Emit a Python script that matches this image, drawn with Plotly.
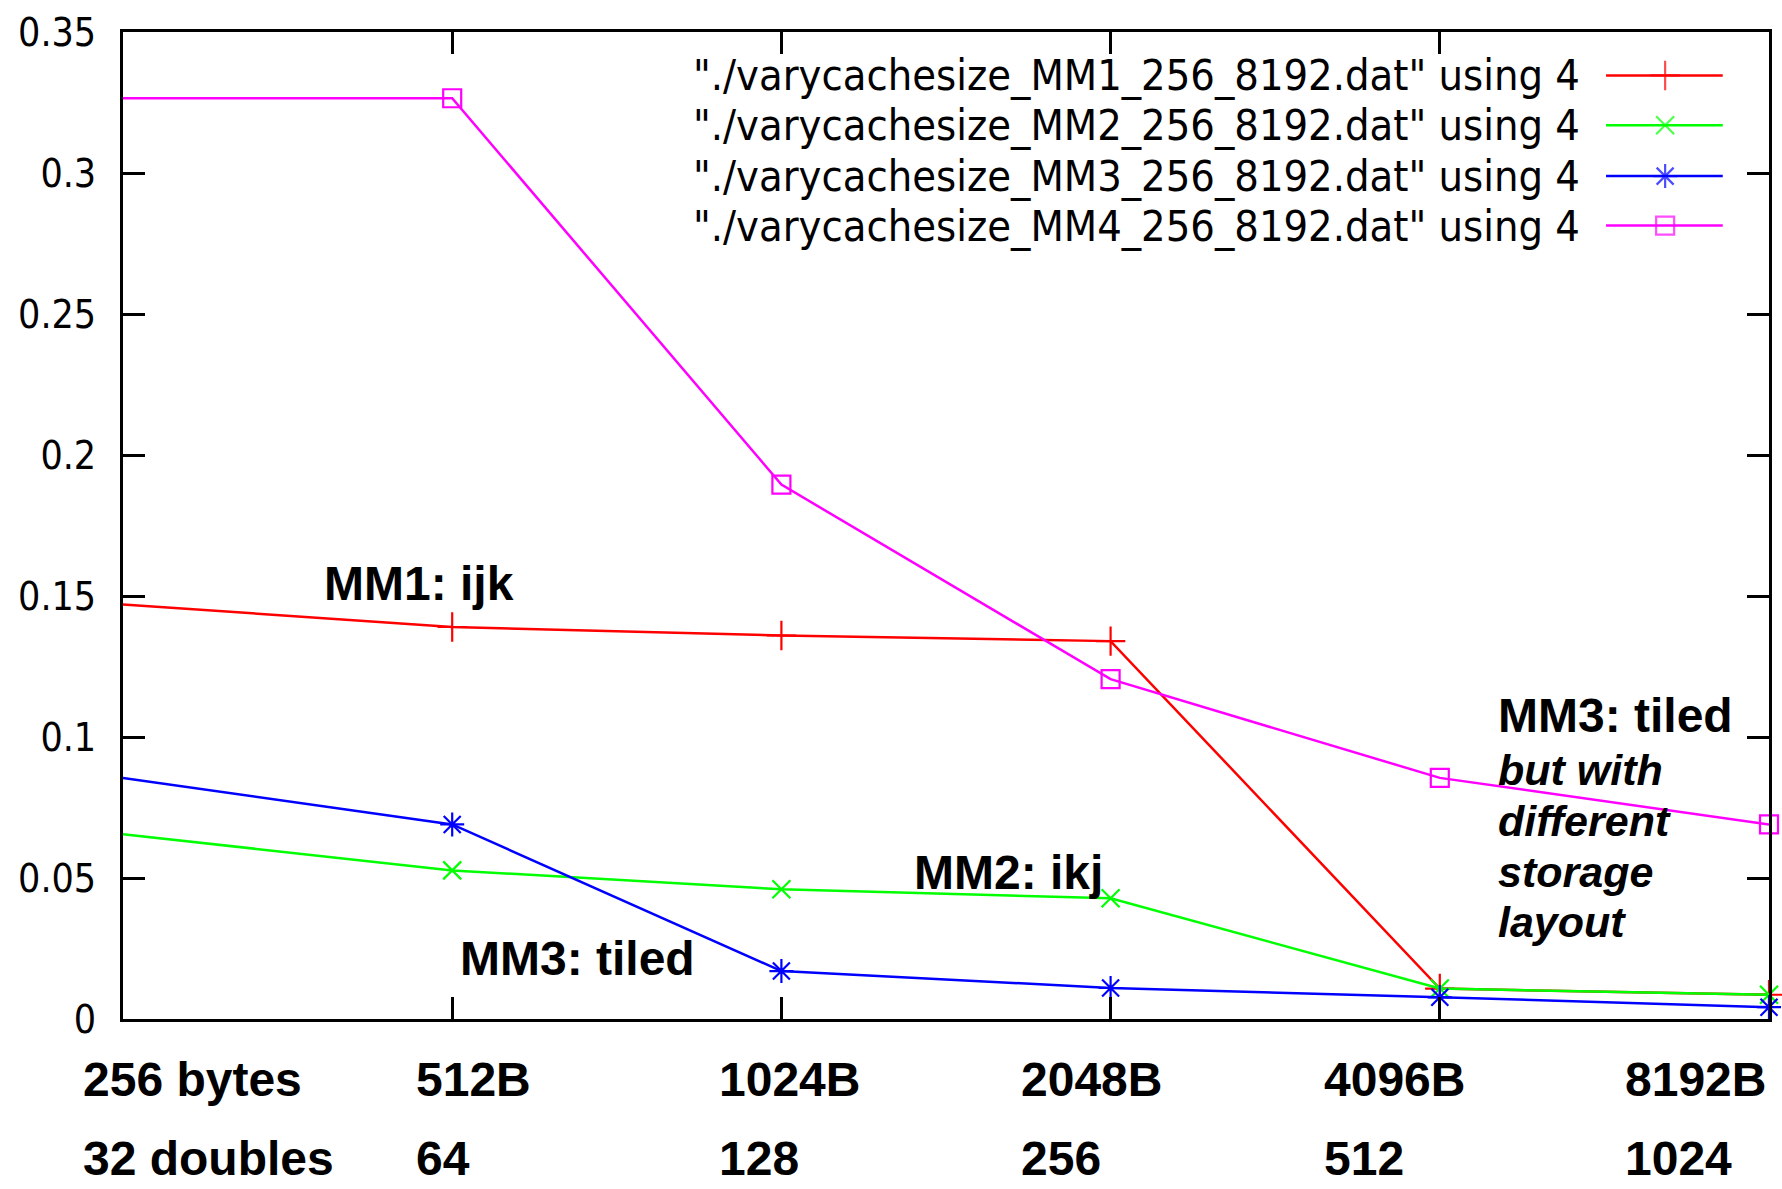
import math
import plotly.graph_objects as go

# ---- data ----
cache_bytes = [256, 512, 1024, 2048, 4096, 8192]
row1_labels = ["256 bytes", "512B", "1024B", "2048B", "4096B", "8192B"]
row2_labels = ["32 doubles", "64", "128", "256", "512", "1024"]

mm1 = [0.147, 0.139, 0.136, 0.134, 0.0108, 0.0086]
mm2 = [0.0655, 0.0527, 0.0460, 0.0428, 0.0108, 0.0086]
mm3 = [0.0855, 0.0690, 0.0170, 0.0110, 0.0077, 0.0042]
mm4 = [0.3265, 0.3265, 0.1895, 0.1205, 0.0855, 0.0690]

series_names = [
    '"./varycachesize_MM1_256_8192.dat" using 4',
    '"./varycachesize_MM2_256_8192.dat" using 4',
    '"./varycachesize_MM3_256_8192.dat" using 4',
    '"./varycachesize_MM4_256_8192.dat" using 4',
]
series_values = [mm1, mm2, mm3, mm4]
colors = ["#ff0000", "#00ff00", "#0000ff", "#ff00ff"]
symbols = ["cross-thin-open", "x-thin-open", "asterisk-open", "square-open"]
sym_sizes = [21, 18, 20, 18]

y_ticks = [0, 0.05, 0.1, 0.15, 0.2, 0.25, 0.3, 0.35]
y_ticktext = ["0", "0.05", "0.1", "0.15", "0.2", "0.25", "0.3", "0.35"]

BOLD = "Liberation Sans, Arial, sans-serif"
REG = "DejaVu Sans Condensed, DejaVu Sans, sans-serif"

fig = go.Figure()
for name, vals, c, s, sz in zip(series_names, series_values, colors, symbols, sym_sizes):
    fig.add_trace(go.Scatter(
        x=cache_bytes, y=vals, mode="lines+markers", name=name,
        line=dict(color=c, width=2.5),
        marker=dict(symbol=s, size=sz, color=c, line=dict(color=c, width=2.2)),
        cliponaxis=False, showlegend=False,
    ))

# ---- custom gnuplot-style legend (text left, sample right) ----
leg_rows_y = [0.9560, 0.9056, 0.8540, 0.8039]
leg_text_x = 0.8866
leg_x = [0.9010, 0.9369, 0.9719]
for name, c, s, sz, yr in zip(series_names, colors, symbols, sym_sizes, leg_rows_y):
    fig.add_trace(go.Scatter(
        x=leg_x, y=[yr] * 3, xaxis="x2", yaxis="y2", mode="lines+markers",
        line=dict(color=c, width=2.5),
        marker=dict(symbol=s, size=[0, sz, 0], color=c, line=dict(color=c, width=2.2)),
        showlegend=False, hoverinfo="skip",
    ))
    fig.add_annotation(x=leg_text_x, y=yr, xref="paper", yref="paper",
                       text=name, showarrow=False, xanchor="right", yanchor="middle",
                       font=dict(family=REG, size=43, color="black"))

def lx(idx):
    return math.log10(256) + idx * math.log10(2)

# ---- in-plot labels ----
LBL = dict(family=BOLD, size=48, color="black")
fig.add_annotation(x=lx(0.90), y=0.1545, text="<b>MM1: ijk</b>", showarrow=False,
                   xanchor="center", yanchor="middle", font=LBL)
fig.add_annotation(x=lx(2.69), y=0.052, text="<b>MM2: ikj</b>", showarrow=False,
                   xanchor="center", yanchor="middle", font=LBL)
fig.add_annotation(x=lx(1.38), y=0.0215, text="<b>MM3: tiled</b>", showarrow=False,
                   xanchor="center", yanchor="middle", font=LBL)
fig.add_annotation(x=lx(4.172), y=0.1075, text="<b>MM3: tiled</b>", showarrow=False,
                   xanchor="left", yanchor="middle", font=LBL)
for txt, yy in zip(["but with", "different", "storage", "layout"], [0.0882, 0.0702, 0.0521, 0.0345]):
    fig.add_annotation(x=lx(4.172), y=yy, text="<b><i>" + txt + "</i></b>", showarrow=False,
                       xanchor="left", yanchor="middle", font=dict(family=BOLD, size=43, color="black"))

# ---- x labels (two rows, left aligned) ----
row_x = [-0.0255, 0.1765, 0.3607, 0.5443, 0.7283, 0.9110]
for xx, t1, t2 in zip(row_x, row1_labels, row2_labels):
    fig.add_annotation(x=xx, y=-0.0614, xref="paper", yref="paper", text="<b>" + t1 + "</b>",
                       showarrow=False, xanchor="left", yanchor="middle", font=LBL)
    fig.add_annotation(x=xx, y=-0.1702, xref="paper", yref="paper", text="<b>" + t2 + "</b>",
                       showarrow=False, xanchor="left", yanchor="bottom", font=LBL)

fig.update_layout(
    width=1782, height=1189,
    margin=dict(l=123, r=10, t=25, b=170),
    paper_bgcolor="white", plot_bgcolor="white",
    showlegend=False,
    xaxis=dict(
        type="log", range=[math.log10(256), math.log10(8192)],
        tickvals=cache_bytes, showticklabels=False,
        ticks="inside", ticklen=22, tickwidth=3, tickcolor="black",
        showline=True, linecolor="black", linewidth=3, mirror="ticks",
        showgrid=False, zeroline=False,
    ),
    yaxis=dict(
        range=[0, 0.35], tickvals=y_ticks, ticktext=y_ticktext,
        ticks="inside", ticklen=22, tickwidth=3, tickcolor="black",
        showline=True, linecolor="black", linewidth=3, mirror="ticks",
        showgrid=False, zeroline=False, ticklabelstandoff=16,
        tickfont=dict(family=REG, size=39, color="black"),
    ),
    xaxis2=dict(overlaying="x", range=[0, 1], visible=False, anchor="y2"),
    yaxis2=dict(overlaying="y", range=[0, 1], visible=False, anchor="x2"),
)

fig.write_html(
    "out.html",
    config={"displayModeBar": False},
    post_script="document.body.style.margin='0';document.body.style.overflow='hidden';",
)
